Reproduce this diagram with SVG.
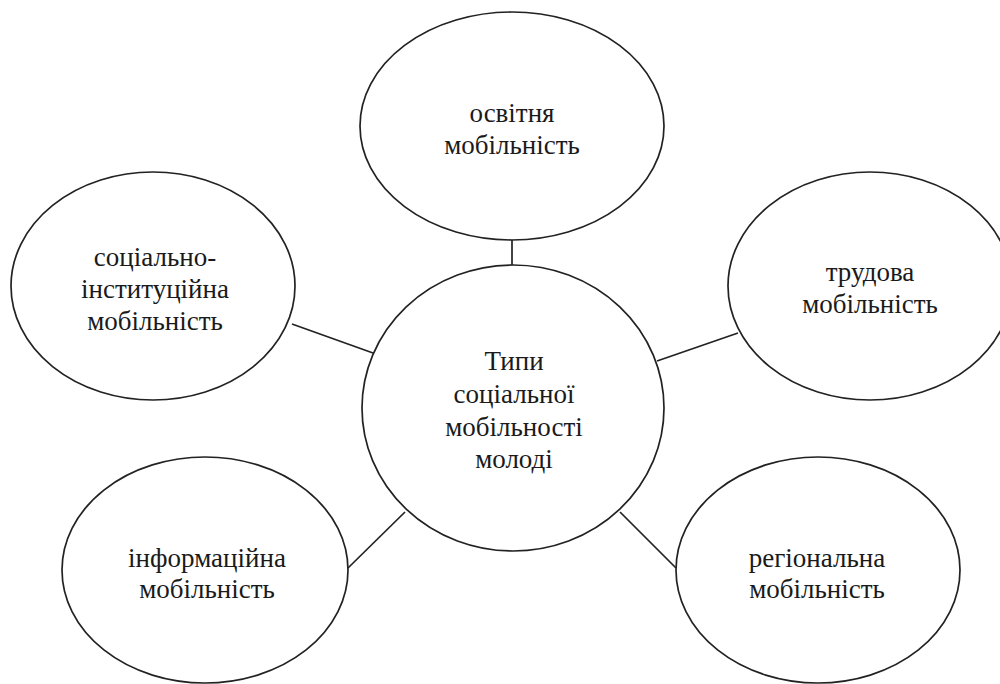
<svg xmlns="http://www.w3.org/2000/svg" width="1000" height="684" viewBox="0 0 1000 684">
<style>
.n{fill:#fff;stroke:#222;stroke-width:1.7}
.c{stroke:#222;stroke-width:1.7;fill:none}
text{font-family:"Liberation Serif","Times New Roman","DejaVu Serif",serif;font-size:27px;fill:#1a1a1a;text-anchor:middle}
</style>
<rect width="1000" height="684" fill="#fff"/>
<g id="connectors">
<line class="c" x1="512" y1="239" x2="512" y2="265"/>
<line class="c" x1="292" y1="324" x2="373" y2="353"/>
<line class="c" x1="738" y1="333" x2="657" y2="361"/>
<line class="c" x1="348" y1="568" x2="405" y2="512"/>
<line class="c" x1="620" y1="512" x2="676" y2="568"/>
</g>
<g id="center">
<ellipse class="n" cx="513" cy="408" rx="151" ry="143"/>
<text x="514" y="370">Типи</text>
<text x="514" y="403">соціальної</text>
<text x="514" y="436">мобільності</text>
<text x="514" y="468">молоді</text>
</g>
<g id="osvitnia">
<ellipse class="n" cx="512" cy="126" rx="152" ry="114"/>
<text x="512" y="122">освітня</text>
<text x="512" y="154">мобільність</text>
</g>
<g id="sotsialno">
<ellipse class="n" cx="153" cy="286" rx="142" ry="114"/>
<text x="155" y="266">соціально-</text>
<text x="155" y="298">інституційна</text>
<text x="155" y="330">мобільність</text>
</g>
<g id="trudova">
<ellipse class="n" cx="870" cy="286" rx="142" ry="114"/>
<text x="870" y="281">трудова</text>
<text x="870" y="313">мобільність</text>
</g>
<g id="informatsiina">
<ellipse class="n" cx="205" cy="570" rx="143" ry="113"/>
<text x="207" y="567">інформаційна</text>
<text x="207" y="598">мобільність</text>
</g>
<g id="rehionalna">
<ellipse class="n" cx="818" cy="570" rx="142" ry="113"/>
<text x="817" y="567">регіональна</text>
<text x="817" y="598">мобільність</text>
</g>
</svg>
